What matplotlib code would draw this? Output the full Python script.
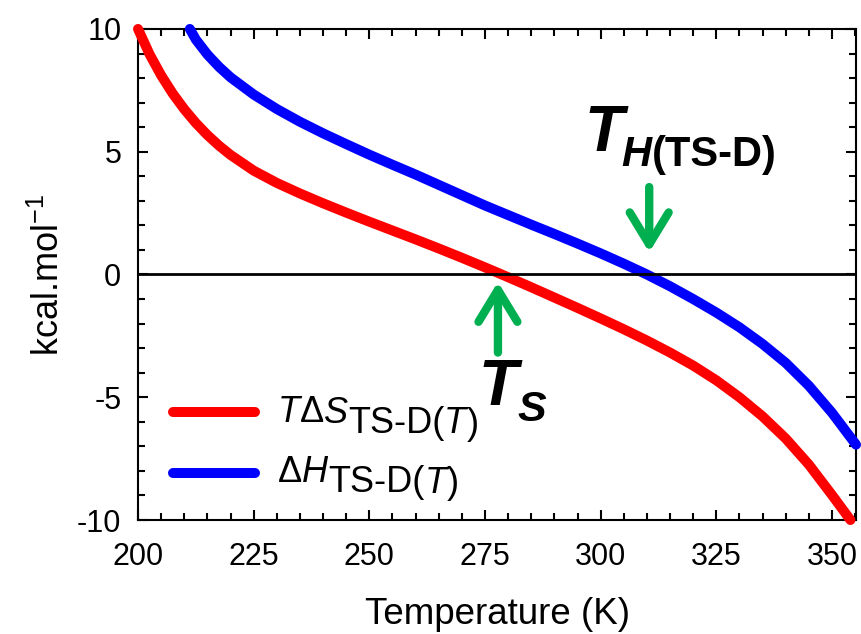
import matplotlib
matplotlib.use("Agg")
import matplotlib.pyplot as plt
from matplotlib.ticker import MultipleLocator

# ---- data ----
T_red = [200, 202.5, 205, 207.5, 210, 212.5, 215, 217.5, 220, 225, 230, 235, 240, 245,
         250, 255, 260, 265, 270, 275, 280, 285, 290, 295, 300, 305, 310, 315, 320,
         325, 330, 335, 340, 345, 350, 354]
TdS = [10, 8.97, 8.11, 7.37, 6.73, 6.17, 5.68, 5.25, 4.87, 4.23, 3.73, 3.30, 2.90, 2.52,
       2.15, 1.79, 1.43, 1.06, 0.68, 0.29, -0.11, -0.52, -0.94, -1.36, -1.79, -2.23,
       -2.69, -3.18, -3.71, -4.31, -5.0, -5.78, -6.68, -7.74, -8.98, -10]

T_blue = [211.2, 212.5, 215, 217.5, 220, 225, 230, 235, 240, 245, 250, 255, 260, 265,
          270, 275, 280, 285, 290, 295, 300, 305, 310, 315, 320, 325, 330, 335, 340,
          345, 350, 355.2]
dH = [10, 9.57, 8.96, 8.46, 8.03, 7.33, 6.74, 6.22, 5.75, 5.31, 4.88, 4.47, 4.07, 3.65,
      3.23, 2.81, 2.42, 2.03, 1.65, 1.26, 0.86, 0.44, 0.0, -0.48, -1.0, -1.55, -2.15,
      -2.83, -3.6, -4.53, -5.63, -6.93]

x_ticks = [200, 225, 250, 275, 300, 325, 350]
y_ticks = [-10, -5, 0, 5, 10]

T_S_x = 277.8        # arrow position for T_S
T_H_x = 310.5        # arrow position for T_H(TS-D)

plt.rcParams['font.family'] = ['Liberation Sans', 'DejaVu Sans']
plt.rcParams['axes.unicode_minus'] = False
plt.rcParams['mathtext.fontset'] = 'custom'
plt.rcParams['mathtext.rm'] = 'Liberation Sans'
plt.rcParams['mathtext.it'] = 'Liberation Sans:italic'
plt.rcParams['mathtext.bf'] = 'Liberation Sans:bold'

fig = plt.figure(figsize=(8.61, 6.34), dpi=100)
ax = fig.add_axes([0.1603, 0.1798, 0.8339, 0.7745])

RED = '#FF0000'
BLUE = '#0000FF'
GREEN = '#00B050'

ax.plot(T_red, TdS, color=RED, lw=7.2, solid_capstyle='round', solid_joinstyle='round',
        clip_on=False, zorder=3, label='TΔS TS-D(T)')
ax.plot(T_blue, dH, color=BLUE, lw=7.2, solid_capstyle='round', solid_joinstyle='round',
        clip_on=False, zorder=3, label='ΔH TS-D(T)')
ax.axhline(0, color='black', lw=2, zorder=4)

ax.set_xlim(200, 355.2)
ax.set_ylim(-10, 10)
ax.set_xticks(x_ticks)
ax.set_yticks(y_ticks)
ax.xaxis.set_minor_locator(MultipleLocator(5))
ax.yaxis.set_minor_locator(MultipleLocator(1))
ax.tick_params(which='both', direction='in', top=True, right=True, width=1.5,
               labelsize=22, colors='black')
ax.tick_params(axis='x', which='both', pad=16)
ax.tick_params(axis='y', which='both', pad=12)
ax.tick_params(which='major', length=7)
ax.tick_params(which='minor', length=4.8)
for sp in ax.spines.values():
    sp.set_linewidth(1.5)
    sp.set_color('black')

ax.set_xlabel('Temperature (K)', fontsize=26.5, labelpad=18)
ax.set_ylabel(r'kcal.mol$^{-1}$', fontsize=26)
ax.yaxis.set_label_coords(-0.099, 0.5)

# arrows
arrow_kw = dict(arrowstyle='->,head_length=2.3,head_width=1.4', lw=6, color=GREEN,
                shrinkA=0, shrinkB=0, mutation_scale=10, capstyle='round', joinstyle='round')
ax.annotate('', xy=(T_S_x, -0.3), xytext=(T_S_x, -3.18), arrowprops=arrow_kw, zorder=5)
ax.annotate('', xy=(T_H_x, 0.9), xytext=(T_H_x, 3.56), arrowprops=arrow_kw, zorder=5)


def rich(x, y, pieces, transform):
    prev = None
    prev_desc = 0
    for s, size, style, weight, shift, dx in pieces:
        kw = dict(fontsize=size, fontstyle=style, fontweight=weight,
                  family='Liberation Sans', color='black', zorder=6)
        if prev is None:
            t = ax.text(x, y, s, transform=transform, ha='left', va='baseline', **kw)
        else:
            t = ax.annotate(s, xy=(1, 0), xycoords=prev, xytext=(dx, shift + prev_desc),
                            textcoords='offset points', ha='left', va='baseline', **kw)
        prev = t
        prev_desc = 0.212 * size
    return prev


# annotation labels
rich(273.5, -5.30, [('T', 46, 'italic', 'bold', 0, 0),
                    ('S', 31, 'italic', 'bold', -12.2, 0)], ax.transData)
rich(296.4, 5.01, [('T', 46, 'italic', 'bold', 0, 0),
                   ('H', 30, 'italic', 'bold', -10.8, -1),
                   ('(TS-D)', 30, 'normal', 'bold', 0, 0)], ax.transData)

# legend (drawn manually to keep full-size subscripts)
ax.plot([0.0487, 0.163], [0.22, 0.22], transform=ax.transAxes, color=RED, lw=7.2,
        solid_capstyle='round', clip_on=False, zorder=6)
ax.plot([0.0487, 0.163], [0.0957, 0.0957], transform=ax.transAxes, color=BLUE, lw=7.2,
        solid_capstyle='round', clip_on=False, zorder=6)
rich(0.194, 0.1996, [('T', 26, 'italic', 'normal', 0, 0),
                     ('Δ', 26, 'normal', 'normal', 0, 0),
                     ('S', 26, 'italic', 'normal', 0, 0),
                     ('TS-D(', 26, 'normal', 'normal', -7.2, 0),
                     ('T', 26, 'italic', 'normal', 0, 0),
                     (')', 26, 'normal', 'normal', 0, 0)], ax.transAxes)
rich(0.195, 0.078, [('Δ', 26, 'normal', 'normal', 0, 0),
                    ('H', 26, 'italic', 'normal', 0, 0),
                    ('TS-D(', 26, 'normal', 'normal', -7.2, 0),
                    ('T', 26, 'italic', 'normal', 0, 0),
                    (')', 26, 'normal', 'normal', 0, 0)], ax.transAxes)

fig.savefig('out.png', dpi=100)
